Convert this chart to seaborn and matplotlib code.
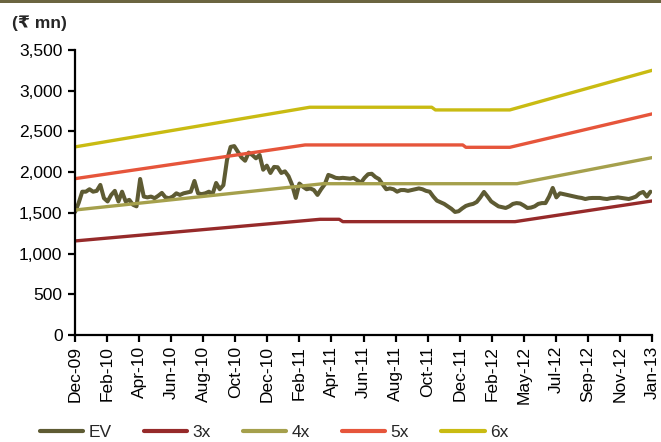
import matplotlib
matplotlib.use("Agg")
import matplotlib.pyplot as plt
from matplotlib.patches import Rectangle
from matplotlib.ticker import FuncFormatter
import pandas as pd
import seaborn as sns

# Weekly enterprise value (Rs mn), starting 15-Dec-2009
ev_start = "2009-12-15"
ev_values = [
    1510, 1620, 1760, 1760, 1790, 1760, 1770, 1843, 1680, 1640,
    1720, 1770, 1640, 1760, 1640, 1660, 1600, 1580, 1916, 1700,
    1690, 1700, 1680, 1710, 1745, 1690, 1680, 1700, 1740, 1720,
    1740, 1750, 1760, 1892, 1740, 1730, 1740, 1760, 1730, 1867,
    1790, 1840, 2150, 2310, 2320, 2250, 2180, 2140, 2240, 2210,
    2170, 2211, 2030, 2080, 1990, 2064, 2060, 1990, 2010, 1950,
    1843, 1683, 1860, 1820, 1790, 1800, 1780, 1720, 1790, 1850,
    1966, 1950, 1930, 1925, 1930, 1925, 1920, 1930, 1900, 1870,
    1930, 1975, 1980, 1940, 1915, 1850, 1790, 1800, 1790, 1760,
    1780, 1780, 1770, 1780, 1790, 1800, 1790, 1770, 1760, 1700,
    1650, 1630, 1610, 1580, 1550, 1511, 1520, 1555, 1585, 1600,
    1610, 1634, 1690, 1757, 1700, 1640, 1610, 1580, 1570, 1560,
    1580, 1610, 1620, 1615, 1590, 1560, 1565, 1580, 1610, 1620,
    1620, 1700, 1806, 1690, 1740, 1730, 1720, 1710, 1700, 1690,
    1683, 1670, 1680, 1683, 1683, 1683, 1675, 1670, 1680, 1683,
    1690, 1683, 1675, 1670, 1683, 1700, 1740, 1757, 1700, 1760,
]

# EV/EBITDA band lines (Rs mn)
band_3x_dates = ["2009-12-15", "2011-04-03", "2011-05-10", "2011-05-17", "2012-04-14", "2013-01-04"]
band_3x_values = [1155, 1421, 1421, 1392, 1392, 1646]

band_4x_dates = ["2009-12-15", "2011-04-09", "2012-04-18", "2013-01-04"]
band_4x_values = [1535, 1858, 1858, 2178]

band_5x_dates = ["2009-12-15", "2011-03-05", "2012-01-04", "2012-01-10", "2012-04-04", "2013-01-04"]
band_5x_values = [1920, 2334, 2334, 2305, 2305, 2715]

band_6x_dates = ["2009-12-15", "2011-03-14", "2011-11-05", "2011-11-12", "2012-04-04", "2013-01-04"]
band_6x_values = [2310, 2797, 2797, 2764, 2764, 3250]

series_labels = ["EV", "3x", "4x", "5x", "6x"]
series_colors = ["#5E5B33", "#962A2A", "#A5A04C", "#E6553B", "#C9BB12"]

y_ticks = [0, 500, 1000, 1500, 2000, 2500, 3000, 3500]
x_tick_step_days = 62

sns.set_style("ticks")
plt.rcParams["font.family"] = ["Liberation Sans", "DejaVu Sans"]
plt.rcParams["axes.linewidth"] = 1.6

fig = plt.figure(figsize=(6.61, 4.42), dpi=100)
ax = fig.add_axes([75 / 661, 1 - 335 / 442, (652 - 75) / 661, (335 - 50) / 442])

ev_df = pd.DataFrame({
    "date": pd.date_range(ev_start, periods=len(ev_values), freq="7D"),
    "value": ev_values,
})
sns.lineplot(data=ev_df, x="date", y="value", ax=ax, color=series_colors[0],
             linewidth=2.9, label=series_labels[0])

bands = [
    (band_3x_dates, band_3x_values),
    (band_4x_dates, band_4x_values),
    (band_5x_dates, band_5x_values),
    (band_6x_dates, band_6x_values),
]
for (dates, values), label, color in zip(bands, series_labels[1:], series_colors[1:]):
    df = pd.DataFrame({"date": pd.to_datetime(dates), "value": values})
    sns.lineplot(data=df, x="date", y="value", ax=ax, color=color,
                 linewidth=2.4, label=label)

# Axes styling
ax.set_xlim(pd.Timestamp("2009-12-15"), pd.Timestamp("2013-01-04"))
ax.set_ylim(0, 3500)
ax.set_yticks(y_ticks)
ax.yaxis.set_major_formatter(FuncFormatter(lambda v, p: f"{int(v):,}"))
ax.set_xlabel("")
ax.set_ylabel("")

x_ticks = pd.date_range("2009-12-15", "2013-01-05", freq=f"{x_tick_step_days}D")
ax.set_xticks(x_ticks)
ax.set_xticklabels([d.strftime("%b-%y") for d in x_ticks], rotation=90)
ax.tick_params(axis="both", labelsize=12.5, length=5, width=1.6, color="black",
               labelcolor="black", direction="out")
ax.tick_params(axis="x", pad=3)
ax.tick_params(axis="y", pad=4)

for side in ("top", "right"):
    ax.spines[side].set_visible(False)
for side in ("left", "bottom"):
    ax.spines[side].set_color("black")

ax.get_legend().remove()
handles, labels = ax.get_legend_handles_labels()
leg = fig.legend(handles, labels, loc="lower left", ncol=5, frameon=False,
                 bbox_to_anchor=(40 / 661, 2 / 442),
                 handlelength=2.5, handletextpad=0.3, columnspacing=1.85,
                 borderpad=0.0, borderaxespad=0.0,
                 prop={"family": ["Liberation Sans Narrow", "Liberation Sans"], "size": 12.5})
for line in leg.get_lines():
    line.set_linewidth(3)

# Unit label
fig.text(12 / 661, 1 - 23 / 442, "(₹ mn)", fontsize=12.5, fontweight="bold",
         va="center", ha="left", family=["Liberation Sans", "DejaVu Sans"])

# Header rule across the top
fig.patches.append(Rectangle((0, 1 - 3 / 442), 1, 3 / 442, transform=fig.transFigure,
                             facecolor="#6B6540", edgecolor="none", zorder=10))

fig.savefig("out.png", dpi=100)
